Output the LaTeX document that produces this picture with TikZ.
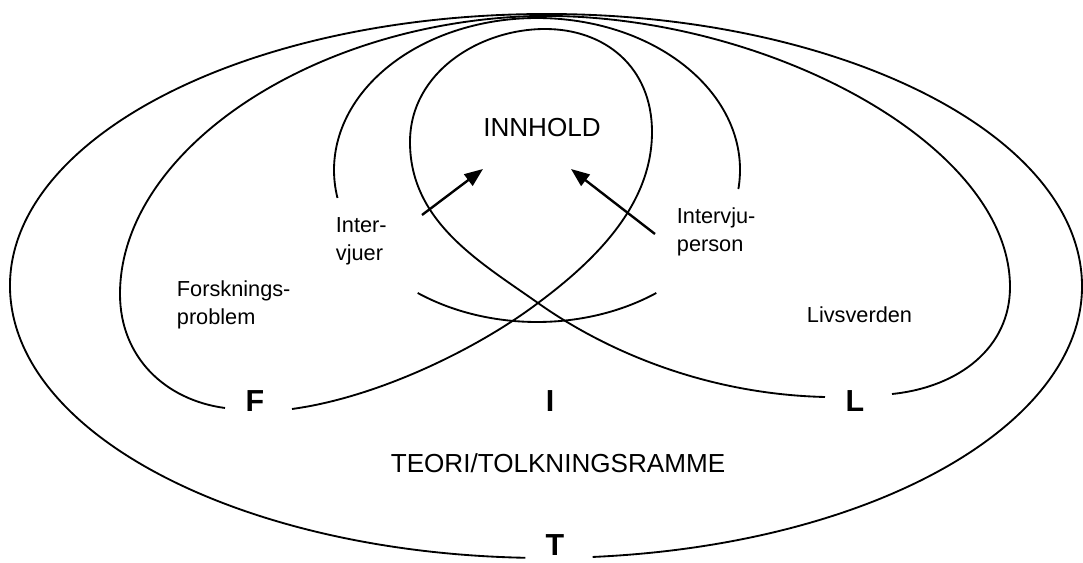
\documentclass[tikz,border=0pt]{standalone}
\usepackage{fontspec}
\setmainfont{Liberation Sans}
\usetikzlibrary{arrows.meta}

\begin{document}
\begin{tikzpicture}[x=0.46pt,y=0.46pt,line width=0.85pt,every node/.style={inner sep=0pt},word/.style={font=\fontsize{12}{14}\selectfont},note/.style={font=\fontsize{10}{12.9}\selectfont,align=left,anchor=north west},letter/.style={font=\fontsize{14}{16}\selectfont\bfseries,anchor=base},pointer/.style={-{Triangle[length=8.5pt,width=6.5pt]},line width=1.1pt}]
\useasboundingbox (0,0) rectangle (1083,562);
\draw (546,276) ++(275:536 and 272) arc[start angle=275,end angle=627.8,x radius=536,y radius=272];
\draw (225,154) .. controls (165,162) and (120,205) .. (120,268) .. controls (120,410) and (310,540) .. (535,546) .. controls (760,550) and (1010,420) .. (1010,275) .. controls (1010,215) and (960,175) .. (892,168);
\draw (292,153) .. controls (380,165) and (480,215) .. (538,259) .. controls (600,305) and (652,360) .. (652,430) .. controls (652,495) and (605,533) .. (545,533) .. controls (480,533) and (410,490) .. (410,420) .. controls (410,340) and (480,300) .. (538,259) .. controls (600,215) and (700,168) .. (825,165);
\draw (537,392) ++(-7.2:203 and 152) arc[start angle=-7.2,end angle=190.6,x radius=203,y radius=152];
\draw (537,392) ++(234:203 and 152) arc[start angle=234,end angle=306,x radius=203,y radius=152];
\node[word] (innhold) at (542,434) {INNHOLD};
\node[note] (intervjuer) at (335,345) {Inter-\\vjuer};
\node[note] (intervjuperson) at (676,355) {Intervju-\\person};
\node[note] (forskning) at (176,282) {Forsknings-\\problem};
\node[note] (livsverden) at (806,256) {Livsverden};
\node[letter] (labF) at (255,151) {F};
\node[letter] (labI) at (550,151) {I};
\node[letter] (labL) at (855,151) {L};
\node[letter] (labT) at (555,7) {T};
\node[word,anchor=base] (teori) at (558,89) {TEORI/TOLKNINGSRAMME};
\coordinate (vjtail) at (422,347);
\coordinate (vjtip) at (483,393);
\coordinate (iptail) at (655,328);
\coordinate (iptip) at (571,393);
\draw[pointer] (vjtail) -- (vjtip);
\draw[pointer] (iptail) -- (iptip);
\end{tikzpicture}
\end{document}
